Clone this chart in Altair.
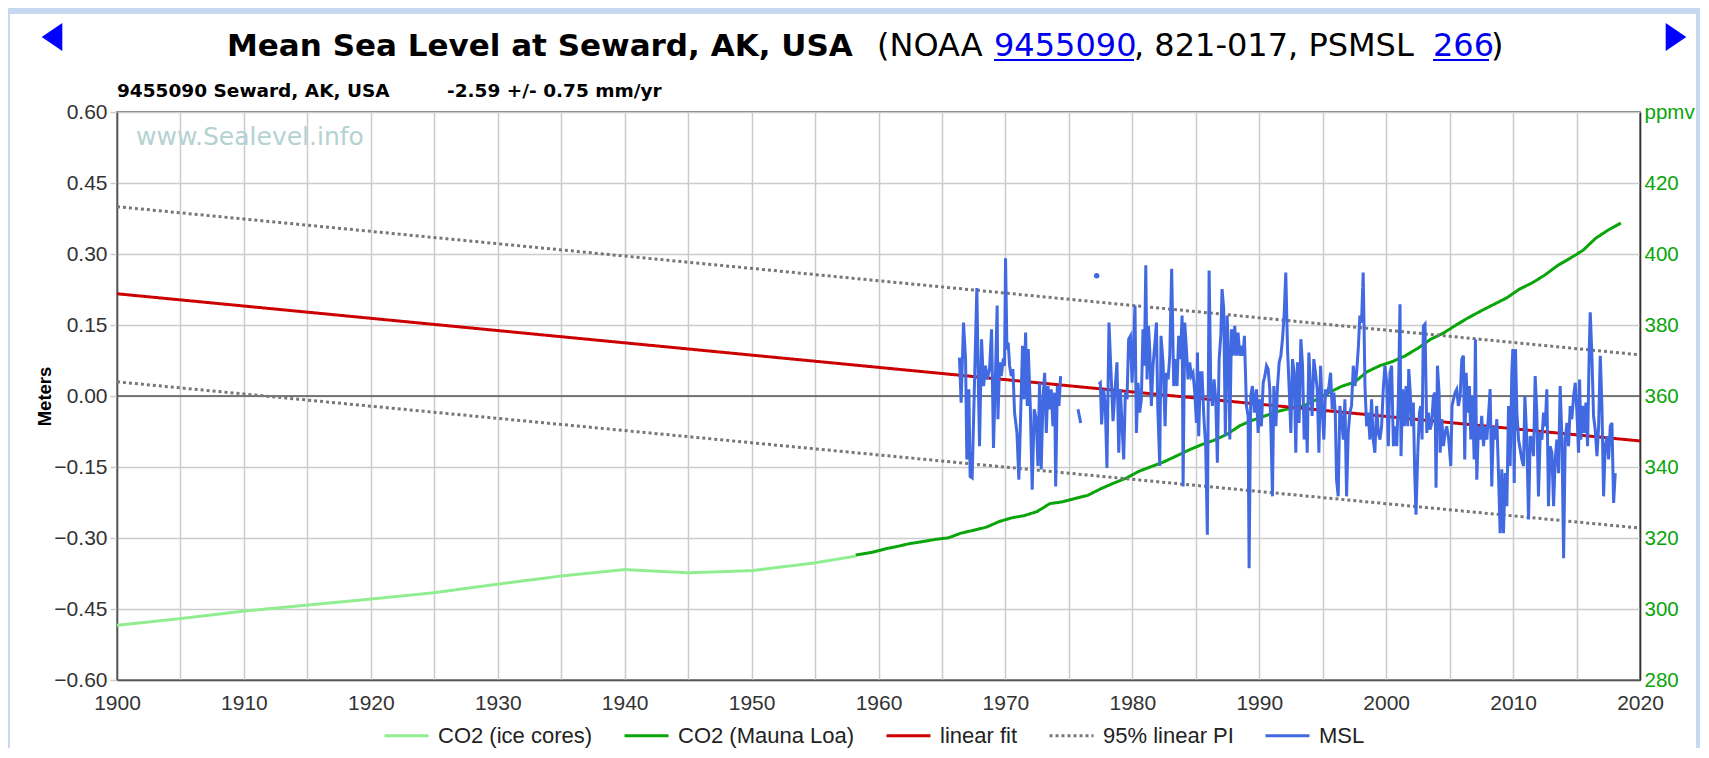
import altair as alt
import pandas as pd

# ---------------- axis ticks / categories ----------------
x_ticks = list(range(1900, 2021, 5))
y_ticks_m = [-0.60, -0.45, -0.30, -0.15, 0.0, 0.15, 0.30, 0.45, 0.60]
y_ticks_ppm = [280, 300, 320, 340, 360, 380, 400, 420, 440]

series_names = ["CO2 (ice cores)", "CO2 (Mauna Loa)", "linear fit", "95% linear PI", "MSL"]
series_colors = ["#90ee90", "#0aa50a", "#cc0000", "#777777", "#4169e1"]
series_dash = [[1, 0], [1, 0], [1, 0], [3, 3], [1, 0]]

# ---------------- CO2 (ppmv, right axis) ----------------
co2_ice = [(1900, 295.4), (1905, 297.3), (1910, 299.4), (1915, 301.1), (1920, 302.8),
           (1925, 304.6), (1930, 307.0), (1935, 309.3), (1940, 311.1), (1945, 310.2),
           (1950, 310.8), (1955, 313.0), (1958.2, 314.9)]

co2_mauna_loa = [(1958.2, 315.2), (1959.5, 315.97), (1960.5, 316.91), (1961.5, 317.64), (1962.5, 318.45),
                 (1963.5, 318.99), (1964.5, 319.62), (1965.5, 320.04), (1966.5, 321.37), (1967.5, 322.18),
                 (1968.5, 323.05), (1969.5, 324.62), (1970.5, 325.68), (1971.5, 326.32), (1972.5, 327.46),
                 (1973.5, 329.68), (1974.5, 330.19), (1975.5, 331.13), (1976.5, 332.03), (1977.5, 333.84),
                 (1978.5, 335.41), (1979.5, 336.84), (1980.5, 338.76), (1981.5, 340.12), (1982.5, 341.48),
                 (1983.5, 343.15), (1984.5, 344.85), (1985.5, 346.35), (1986.5, 347.61), (1987.5, 349.31),
                 (1988.5, 351.69), (1989.5, 353.20), (1990.5, 354.45), (1991.5, 355.70), (1992.5, 356.54),
                 (1993.5, 357.21), (1994.5, 358.96), (1995.5, 360.97), (1996.5, 362.74), (1997.5, 363.88),
                 (1998.5, 366.84), (1999.5, 368.54), (2000.5, 369.71), (2001.5, 371.32), (2002.5, 373.45),
                 (2003.5, 375.98), (2004.5, 377.70), (2005.5, 379.98), (2006.5, 382.09), (2007.5, 384.02),
                 (2008.5, 385.83), (2009.5, 387.64), (2010.5, 390.10), (2011.5, 391.85), (2012.5, 394.06),
                 (2013.5, 396.74), (2014.5, 398.81), (2015.5, 401.01), (2016.5, 404.41), (2017.5, 406.76),
                 (2018.5, 408.72)]

# ---------------- sea level (meters, left axis) ----------------
linear_fit = [(1900, 0.216), (2020, -0.095)]
pi_upper = [(1900, 0.400), (2020, 0.087)]
pi_lower = [(1900, 0.030), (2020, -0.279)]

msl_1966 = [(1966.38, 0.081), (1966.51, -0.014), (1966.70, 0.155), (1966.86, 0.078), (1966.96, -0.134),
            (1967.12, 0.014), (1967.22, -0.170), (1967.38, -0.173), (1967.57, 0.035), (1967.75, 0.228),
            (1967.85, 0.050), (1967.96, -0.106), (1968.12, 0.120), (1968.28, 0.021), (1968.43, 0.064),
            (1968.56, 0.035), (1968.75, 0.057), (1968.91, 0.141), (1969.06, -0.110), (1969.22, 0.050),
            (1969.35, 0.191), (1969.41, -0.049), (1969.54, 0.071), (1969.67, 0.042), (1969.80, 0.071),
            (1969.93, 0.064), (1970.01, 0.291), (1970.12, 0.099), (1970.22, 0.113), (1970.33, 0.064),
            (1970.46, 0.042), (1970.59, 0.057), (1970.72, -0.035), (1970.91, -0.078), (1971.06, -0.177),
            (1971.22, -0.021), (1971.35, 0.106), (1971.46, -0.007), (1971.59, 0.134), (1971.72, -0.021),
            (1971.80, 0.099), (1971.96, -0.021), (1972.11, -0.198), (1972.27, -0.028), (1972.43, -0.049),
            (1972.56, -0.148), (1972.69, 0.028), (1972.82, -0.155), (1972.96, -0.007), (1973.09, 0.049),
            (1973.22, -0.078), (1973.35, 0.021), (1973.48, -0.028), (1973.61, 0.014), (1973.74, -0.064),
            (1973.88, 0.007), (1973.96, -0.191), (1974.09, 0.021), (1974.22, -0.021), (1974.35, 0.042)]

msl_1975 = [(1975.72, -0.028), (1975.93, -0.057)]

msl_1977_dot = [(1977.19, 0.254)]

msl_1977 = [(1977.35, 0.025), (1977.48, 0.028), (1977.58, -0.060), (1977.74, 0.014), (1977.87, -0.021),
            (1978.00, -0.152), (1978.16, 0.155), (1978.32, 0.049), (1978.48, -0.053), (1978.64, 0.014),
            (1978.79, 0.071), (1978.93, -0.120), (1979.06, 0.014), (1979.19, -0.064), (1979.32, -0.134),
            (1979.45, 0.007), (1979.58, -0.007), (1979.71, 0.120), (1979.85, 0.127), (1979.98, 0.028),
            (1980.11, 0.117), (1980.21, 0.191), (1980.32, -0.078), (1980.45, 0.028), (1980.58, -0.035),
            (1980.71, -0.007), (1980.84, 0.141), (1980.95, 0.064), (1981.06, 0.276), (1981.16, 0.035),
            (1981.27, 0.148), (1981.37, 0.099), (1981.50, -0.021), (1981.63, 0.064), (1981.76, 0.106),
            (1981.90, 0.155), (1982.00, -0.021), (1982.16, -0.148), (1982.26, 0.127), (1982.42, 0.071),
            (1982.58, -0.064), (1982.69, 0.049), (1982.82, 0.035), (1982.95, 0.085),
            (1983.10, 0.269), (1983.26, 0.021), (1983.39, 0.078), (1983.52, 0.021), (1983.65, 0.127),
            (1983.78, 0.078), (1983.92, 0.170), (1984.00, -0.191), (1984.13, 0.155), (1984.26, 0.099),
            (1984.39, 0.035), (1984.52, 0.071), (1984.65, 0.042), (1984.78, 0.049), (1984.92, 0.007),
            (1985.05, -0.057), (1985.13, 0.092), (1985.23, -0.085), (1985.36, 0.049), (1985.49, 0.049),
            (1985.63, -0.042), (1985.78, -0.106), (1985.91, -0.293), (1986.05, 0.265), (1986.18, 0.021),
            (1986.31, -0.021), (1986.44, 0.035), (1986.57, -0.007), (1986.70, -0.141), (1986.84, 0.078),
            (1986.97, 0.127), (1987.07, 0.226), (1987.20, 0.184), (1987.33, -0.085), (1987.47, 0.170),
            (1987.60, 0.064), (1987.68, -0.092), (1987.81, 0.141), (1987.94, 0.085), (1988.07, 0.148),
            (1988.20, 0.085), (1988.33, 0.134), (1988.47, 0.085), (1988.60, 0.106), (1988.73, 0.085),
            (1988.83, 0.127), (1988.99, -0.021), (1989.12, -0.042), (1989.20, -0.364), (1989.33, 0.000),
            (1989.46, 0.021), (1989.62, -0.035), (1989.78, 0.014), (1989.91, -0.078), (1990.04, -0.007),
            (1990.17, -0.064), (1990.31, 0.028), (1990.44, 0.042), (1990.57, 0.064), (1990.70, 0.057),
            (1990.83, 0.014), (1990.94, -0.092), (1991.04, -0.212), (1991.15, 0.021), (1991.31, -0.064),
            (1991.44, 0.021), (1991.57, 0.071), (1991.70, 0.085), (1991.83, 0.120), (1991.96, 0.170),
            (1992.09, 0.261), (1992.23, 0.099), (1992.36, 0.014), (1992.49, -0.078), (1992.62, 0.078),
            (1992.75, 0.049), (1992.88, -0.120), (1993.01, 0.071), (1993.14, -0.057), (1993.28, 0.120),
            (1993.41, 0.064), (1993.54, -0.092), (1993.67, -0.021), (1993.78, -0.120), (1993.91, 0.092),
            (1994.04, 0.014), (1994.17, -0.042), (1994.30, 0.078), (1994.43, 0.049), (1994.57, 0.014),
            (1994.70, -0.120), (1994.83, 0.064), (1994.96, -0.028), (1995.09, -0.092), (1995.22, 0.014),
            (1995.35, 0.000), (1995.49, 0.021), (1995.62, 0.049), (1995.75, -0.028), (1995.88, 0.007),
            (1995.99, -0.035), (1996.09, -0.177), (1996.22, -0.212), (1996.35, -0.021), (1996.49, -0.049),
            (1996.62, -0.092), (1996.75, -0.007), (1996.88, -0.212), (1997.01, -0.078), (1997.14, -0.035),
            (1997.27, -0.021), (1997.41, 0.064), (1997.54, 0.021), (1997.67, 0.049), (1997.80, 0.099),
            (1997.93, 0.170), (1998.06, 0.155), (1998.19, 0.261), (1998.33, 0.021), (1998.46, -0.064),
            (1998.59, -0.035), (1998.72, -0.092), (1998.85, -0.007), (1998.98, -0.092), (1999.11, -0.120),
            (1999.25, -0.021), (1999.38, -0.078), (1999.51, -0.092), (1999.64, -0.064), (1999.77, 0.014),
            (1999.90, 0.064), (2000.04, 0.028), (2000.17, -0.106), (2000.30, 0.049), (2000.43, 0.064),
            (2000.57, -0.106), (2000.70, -0.064), (2000.83, -0.106), (2000.96, -0.007), (2001.09, 0.194),
            (2001.17, -0.127), (2001.30, 0.014), (2001.43, -0.064), (2001.57, 0.021), (2001.70, -0.064),
            (2001.78, 0.057), (2001.88, 0.014), (2002.01, -0.064), (2002.14, -0.014), (2002.25, -0.163),
            (2002.35, -0.251), (2002.49, -0.120), (2002.62, -0.035), (2002.72, -0.021), (2002.83, -0.092),
            (2002.93, 0.148), (2003.06, 0.152), (2003.20, -0.078), (2003.33, -0.035), (2003.46, -0.071),
            (2003.59, -0.057), (2003.72, 0.000), (2003.85, 0.007), (2003.93, -0.194), (2004.04, 0.064),
            (2004.17, 0.007), (2004.25, -0.120), (2004.38, -0.049), (2004.51, -0.106), (2004.64, -0.078),
            (2004.77, -0.064), (2004.93, -0.092), (2005.09, -0.148), (2005.19, -0.021), (2005.30, -0.007),
            (2005.43, 0.007), (2005.56, 0.014), (2005.69, -0.021), (2005.83, 0.000), (2005.96, 0.078),
            (2006.09, 0.085), (2006.19, -0.134), (2006.30, 0.049), (2006.43, -0.035), (2006.56, 0.021),
            (2006.67, -0.092), (2006.80, 0.000), (2006.93, -0.134), (2007.03, 0.120), (2007.14, -0.177),
            (2007.27, -0.064), (2007.40, -0.092), (2007.53, -0.042), (2007.67, -0.106), (2007.80, -0.064),
            (2007.93, -0.092), (2008.06, -0.042), (2008.19, 0.014), (2008.32, -0.191), (2008.45, -0.064),
            (2008.59, -0.092), (2008.72, -0.049), (2008.85, -0.163), (2008.98, -0.290), (2009.11, -0.155),
            (2009.24, -0.290), (2009.38, -0.163), (2009.51, -0.233), (2009.64, -0.021), (2009.77, -0.148),
            (2009.90, 0.049), (2009.98, 0.099), (2010.09, -0.184), (2010.19, 0.099), (2010.30, -0.035),
            (2010.43, -0.092), (2010.56, -0.113), (2010.69, -0.134), (2010.82, -0.148), (2010.93, 0.000),
            (2011.08, -0.092), (2011.22, -0.261), (2011.35, -0.085), (2011.48, -0.092), (2011.61, -0.127),
            (2011.74, 0.042), (2011.87, -0.035), (2012.00, -0.212), (2012.14, -0.078), (2012.27, -0.092),
            (2012.40, -0.035), (2012.53, -0.064), (2012.66, 0.014), (2012.79, -0.233), (2012.92, -0.106),
            (2013.06, -0.120), (2013.19, -0.233), (2013.32, -0.134), (2013.45, -0.092), (2013.58, -0.163),
            (2013.71, 0.021), (2013.85, -0.092), (2013.98, -0.343), (2014.11, -0.092), (2014.24, -0.057),
            (2014.37, -0.106), (2014.50, -0.021), (2014.63, -0.049), (2014.77, 0.000), (2014.90, 0.028),
            (2015.03, -0.035), (2015.16, -0.120), (2015.24, 0.035), (2015.34, -0.092), (2015.48, -0.021),
            (2015.61, -0.078), (2015.74, -0.014), (2015.87, -0.106), (2016.00, 0.099), (2016.08, 0.177),
            (2016.21, 0.085), (2016.34, -0.042), (2016.47, -0.071), (2016.61, -0.127), (2016.74, -0.064),
            (2016.87, 0.085), (2017.00, -0.021), (2017.13, -0.212), (2017.26, -0.106), (2017.40, -0.085),
            (2017.53, -0.134), (2017.66, -0.064), (2017.79, -0.057), (2017.92, -0.226), (2018.05, -0.163)]


def frame(pairs, series, seg, col):
    return pd.DataFrame({"year": [p[0] for p in pairs], col: [p[1] for p in pairs],
                         "series": series, "seg": seg})


co2_df = pd.concat([frame(co2_ice, "CO2 (ice cores)", "ice", "ppm"),
                    frame(co2_mauna_loa, "CO2 (Mauna Loa)", "ml", "ppm")])
fit_df = frame(linear_fit, "linear fit", "fit", "v")
pi_df = pd.concat([frame(pi_upper, "95% linear PI", "up", "v"),
                   frame(pi_lower, "95% linear PI", "lo", "v")])
msl_df = pd.concat([frame(msl_1966, "MSL", "a", "v"),
                    frame(msl_1975, "MSL", "b", "v"),
                    frame(msl_1977, "MSL", "c", "v")])
dot_df = frame(msl_1977_dot, "MSL", "d", "v")
zero_df = pd.DataFrame({"v": [0.0]})

LABEL_FONT = "Liberation Sans"

x_axis = alt.Axis(values=x_ticks, format="d",
                  labelExpr="datum.value % 10 == 0 ? datum.label : ''",
                  grid=True, gridColor="#cccccc", gridWidth=1.5,
                  tickSize=0, labelPadding=12, labelFlush=False, labelOverlap=False,
                  labelFont=LABEL_FONT, labelFontSize=21, labelColor="#333333",
                  domainColor="#555555", domainWidth=1.5, title=None)
ym_axis = alt.Axis(values=y_ticks_m, format=".2f", orient="left",
                   grid=True, gridColor="#cccccc", gridWidth=1.5,
                   tickSize=7, tickColor="#cccccc", tickWidth=1.5, labelPadding=3,
                   labelFont=LABEL_FONT, labelFontSize=21, labelColor="#333333",
                   domainColor="#555555", domainWidth=1.5,
                   title="Meters", titleFont=LABEL_FONT, titleFontSize=18.5, titleFontWeight="bold",
                   titleColor="#000000", titleX=-73, titleY=284, titleAngle=270,
                   titleAlign="center", titleBaseline="middle")
yc_axis = alt.Axis(values=y_ticks_ppm, orient="right", grid=False,
                   labelExpr="datum.value == 440 ? 'ppmv' : datum.label",
                   tickSize=0, labelPadding=4,
                   labelFont=LABEL_FONT, labelFontSize=20.5, labelColor="#0aa50a",
                   domainColor="#333333", domainWidth=1.5, title=None)

X = alt.X("year:Q", scale=alt.Scale(domain=[1900, 2020], nice=False, zero=False), axis=x_axis)
YM = alt.Y("v:Q", scale=alt.Scale(domain=[-0.6, 0.6], nice=False, zero=False), axis=ym_axis)
YC = alt.Y("ppm:Q", scale=alt.Scale(domain=[280, 440], nice=False, zero=False), axis=yc_axis)

legend = alt.Legend(title=None, orient="none", legendX=266, legendY=600, direction="horizontal",
                    columns=5, symbolType="stroke", symbolSize=1936, symbolStrokeWidth=3,
                    labelFont=LABEL_FONT, labelFontSize=22, labelColor="#222222", labelLimit=400,
                    columnPadding=25, labelOffset=8, padding=0)
COLOR = alt.Color("series:N", scale=alt.Scale(domain=series_names, range=series_colors), legend=legend)
DASH = alt.StrokeDash("series:N", scale=alt.Scale(domain=series_names, range=series_dash), legend=legend)

co2_layer = alt.Chart(co2_df).mark_line(strokeWidth=3).encode(
    x=X, y=YC, color=COLOR, strokeDash=DASH, detail="seg:N")

zero_layer = alt.Chart(zero_df).mark_rule(color="#555555", strokeWidth=1.5).encode(y=YM)
fit_layer = alt.Chart(fit_df).mark_line(strokeWidth=3).encode(
    x=X, y=YM, color=COLOR, strokeDash=DASH, detail="seg:N")
pi_layer = alt.Chart(pi_df).mark_line(strokeWidth=3).encode(
    x=X, y=YM, color=COLOR, strokeDash=DASH, detail="seg:N")
msl_layer = alt.Chart(msl_df).mark_line(strokeWidth=3).encode(
    x=X, y=YM, color=COLOR, strokeDash=DASH, detail="seg:N")
dot_layer = alt.Chart(dot_df).mark_circle(size=30, color="#4169e1", opacity=1).encode(x=X, y=YM)

meters = alt.layer(zero_layer, fit_layer, pi_layer, msl_layer, dot_layer)

ONE = alt.Data(values=[{"k": 1}])


def text(t, x, y, size, color="#000000", weight="normal", font="DejaVu Sans"):
    return alt.Chart(ONE).mark_text(text=t, align="left", baseline="alphabetic", font=font,
                                    fontSize=size, fontWeight=weight, color=color).encode(
        x=alt.value(x), y=alt.value(y))


def underline(x1, x2, y):
    return alt.Chart(ONE).mark_rule(color="#0000ee", strokeWidth=2).encode(
        x=alt.value(x1), x2=alt.value(x2), y=alt.value(y))


def arrow(path, x, y):
    return alt.Chart(ONE).mark_point(shape=path, size=424, filled=True, color="#0000ff",
                                     opacity=1, strokeWidth=0).encode(x=alt.value(x), y=alt.value(y))


def strip(x1, x2, y1, y2):
    return alt.Chart(ONE).mark_rect(color="#c6d9f1", opacity=1).encode(
        x=alt.value(x1), x2=alt.value(x2), y=alt.value(y1), y2=alt.value(y2))


decor = [
    strip(-109, 1583, -104, -98),
    strip(1579, 1583, -104, 640),
    strip(-109, -107, -104, 640),
    text("Mean Sea Level at Seward, AK, USA", 110, -56, 31, weight="bold"),
    text("(NOAA ", 760, -56, 32),
    text("9455090", 877, -56, 32, color="#0000ee"),
    underline(877, 1017, -52),
    text(", 821-017, PSMSL", 1017, -56, 32),
    text("266", 1316, -56, 32, color="#0000ee"),
    underline(1316, 1372, -52),
    text(")", 1374, -56, 32),
    text("9455090 Seward, AK, USA", 0, -15, 18.5, weight="bold"),
    text("-2.59 +/- 0.75 mm/yr", 330, -15, 18.5, weight="bold"),
    text("www.Sealevel.info", 19, 33, 25, color="#b4d2d2"),
    arrow("M1,-1.36L1,1.36L-1,0Z", -65, -75),
    arrow("M-1,-1.36L-1,1.36L1,0Z", 1559, -75),
]

chart = alt.layer(co2_layer, meters, *decor).resolve_scale(y="independent").properties(
    width=1523, height=568,
    padding={"left": 109, "top": 104, "right": 60, "bottom": 68},
    autosize=alt.AutoSizeParams(type="none"),
    background="#ffffff",
).configure_view(stroke="#555555", strokeWidth=1.5)

chart.save("out.html", embed_options={"renderer": "svg", "actions": False})
